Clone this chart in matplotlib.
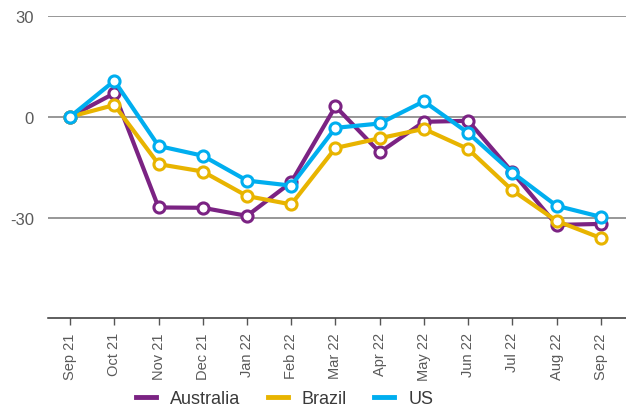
import numpy as np
import matplotlib
matplotlib.use("Agg")
import matplotlib.pyplot as plt

months = ["Sep 21", "Oct 21", "Nov 21", "Dec 21", "Jan 22", "Feb 22", "Mar 22",
          "Apr 22", "May 22", "Jun 22", "Jul 22", "Aug 22", "Sep 22"]
australia = [0, 7.0, -27.0, -27.1, -29.5, -19.5, 3.1, -10.6, -1.5, -1.2, -16.5, -32.2, -31.9]
brazil = [0, 3.5, -14.1, -16.3, -23.6, -26.1, -9.3, -6.4, -3.6, -9.6, -21.9, -31.0, -36.1]
us = [0, 10.7, -8.7, -11.6, -19.0, -20.5, -3.3, -2.0, 4.6, -4.8, -16.6, -26.5, -29.8]

series = [("Australia", australia, "#7b2383"),
          ("Brazil", brazil, "#e8b400"),
          ("US", us, "#00aeef")]

plt.rcParams["font.family"] = ["Liberation Sans", "DejaVu Sans"]

fig = plt.figure(figsize=(6.26, 4.14), dpi=100)
ax = fig.add_axes([48 / 626, 1 - 319.3 / 414, 1 - 48 / 626, (319.3 - 17) / 414])

x = np.arange(len(months))
for name, vals, col in series:
    ax.plot(x, vals, color=col, lw=3.0, marker="o", ms=8, mfc="white",
            mec=col, mew=2.2, label=name, solid_joinstyle="round", clip_on=False)

ax.set_ylim(-60, 30)
ax.set_xlim(-0.5, 12.57)
ax.set_yticks([30, 0, -30])
ax.set_yticklabels(["30", "0", "-30"])
for yv in [30, 0, -30]:
    ax.axhline(yv, color="#7a7a7a", lw=1.1, zorder=0)

ax.set_xticks(x)
ax.set_xticklabels(months, rotation=90)
for s in ["top", "right", "left"]:
    ax.spines[s].set_visible(False)
ax.spines["bottom"].set_color("#333333")
ax.spines["bottom"].set_linewidth(1.1)
ax.tick_params(axis="y", length=0, pad=10, labelsize=12, labelcolor="#5a5a5a")
ax.tick_params(axis="x", length=5, width=1, color="#555555", pad=5,
               labelsize=10.5, labelcolor="#5a5a5a")

leg = fig.legend(loc="lower center", bbox_to_anchor=(0.455, -0.025), ncol=3,
                 frameon=False, fontsize=13, handlelength=1.1, handletextpad=0.8,
                 columnspacing=1.5)
for h in leg.legend_handles:
    h.set_marker("")
    h.set_linewidth(3.5)
for t in leg.get_texts():
    t.set_color("#3a3a3a")

fig.savefig("out.png", dpi=100)
